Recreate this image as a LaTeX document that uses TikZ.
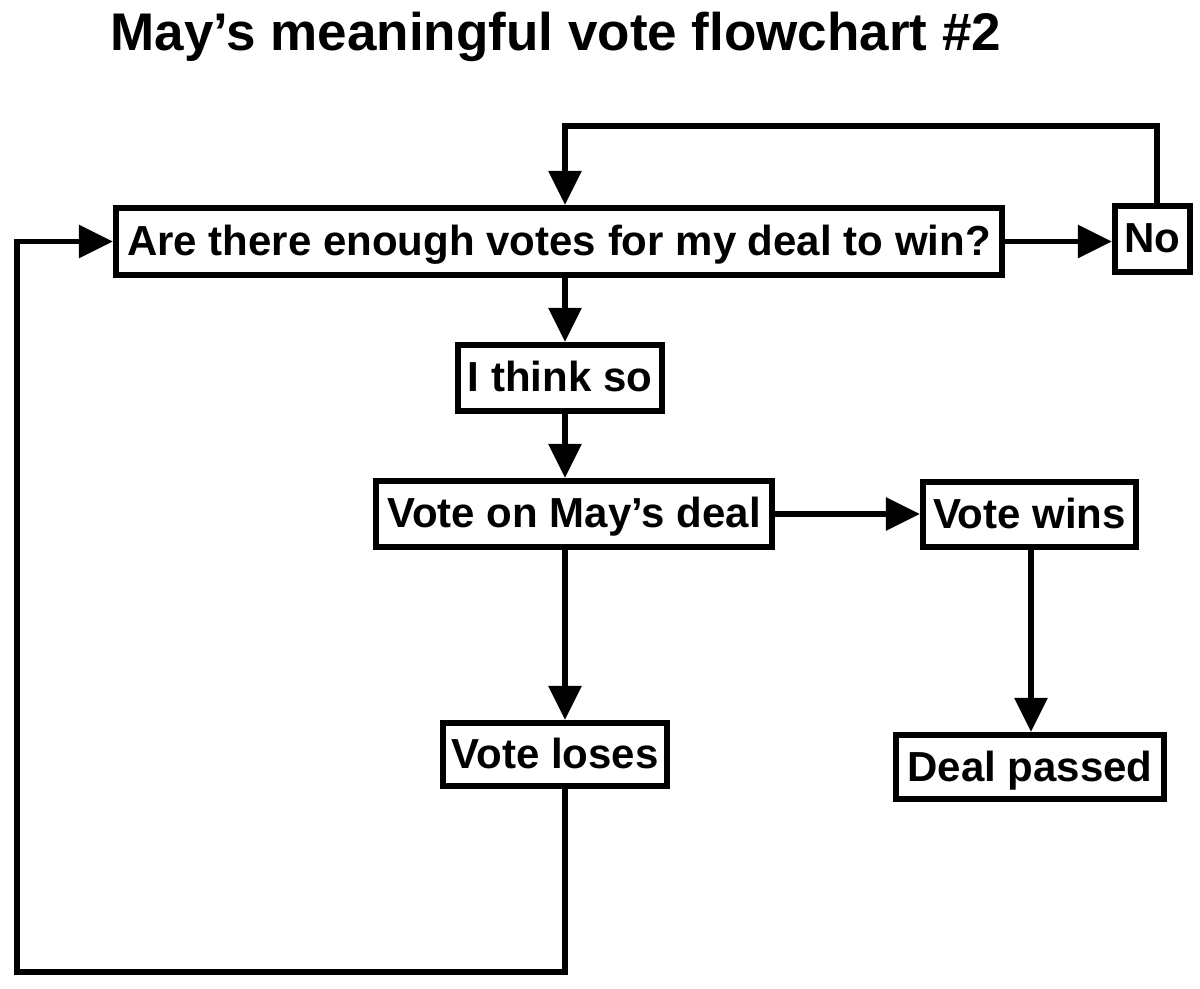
\documentclass[tikz,border=0pt]{standalone}
\usepackage{fontspec}
\setmainfont{Liberation Sans}
\usetikzlibrary{arrows.meta}
\begin{document}
\begin{tikzpicture}[x=0.5pt,y=-0.5pt,
  box/.style={draw, line width=2.9pt, rectangle, inner sep=0pt,
    font=\fontsize{21}{25}\selectfont\bfseries, text height=15pt, text depth=1pt},
  conn/.style={line width=2.9pt},
  arr/.style={conn, -{Triangle[length=17pt,width=16pt]}}]
\useasboundingbox (0,0) rectangle (1200,989);
\node[font=\fontsize{26.5}{30}\selectfont\bfseries, inner sep=0pt] (title) at (556,37) {May’s meaningful vote flowchart \#2};
\node[box, minimum width=443.2pt, minimum height=33.7pt] (Q) at (559,241.5) {Are there enough votes for my deal to win?};
\node[box, minimum width=37.7pt, minimum height=33.2pt] (No) at (1152.5,239) {No};
\node[box, minimum width=102.2pt, minimum height=33.2pt] (think) at (560,378) {I think so};
\node[box, minimum width=198.2pt, minimum height=33.2pt] (vote) at (574,514) {Vote on May’s deal};
\node[box, minimum width=106.7pt, minimum height=32.7pt] (wins) at (1029.5,514.5) {Vote wins};
\node[box, minimum width=112.2pt, minimum height=31.7pt] (loses) at (555,754.5) {Vote loses};
\node[box, minimum width=134.2pt, minimum height=32.2pt] (passed) at (1030,767) {Deal passed};
\coordinate (spine) at (565,0);
\coordinate (col2) at (1031,0);
\coordinate (nr) at (1157,126);
\coordinate (lb) at (17,972);
\draw[arr] (Q.east) -- (Q.east -| No.west);
\draw[arr] (No.north -| nr) -- (nr) -- (nr -| spine) -- (Q.north -| spine);
\draw[arr] (Q.south -| spine) -- (think.north -| spine);
\draw[arr] (think.south -| spine) -- (vote.north -| spine);
\draw[arr] (vote.east) -- (vote.east -| wins.west);
\draw[arr] (wins.south -| col2) -- (passed.north -| col2);
\draw[arr] (vote.south -| spine) -- (loses.north -| spine);
\draw[arr] (loses.south -| spine) |- (lb) |- (Q.west);
\end{tikzpicture}
\end{document}
